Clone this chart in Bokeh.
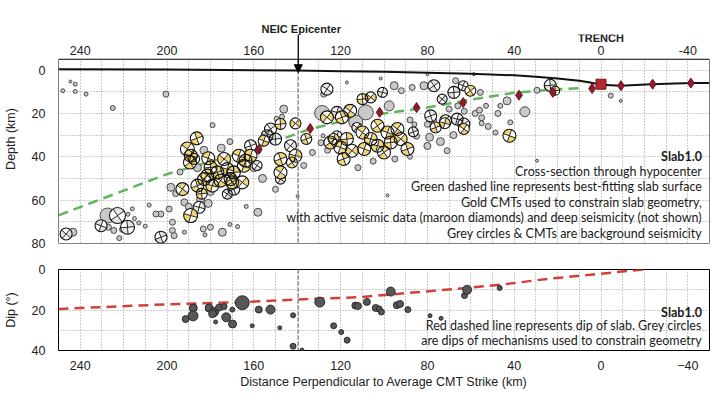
import math
from bokeh.plotting import figure
from bokeh.layouts import column
from bokeh.models import Range1d, FixedTicker, Label, Arrow, NormalHead, Span, BoxAnnotation
from bokeh.embed import file_html
from bokeh.resources import INLINE

# ---------------- data ----------------
x_tick_values = [240, 200, 160, 120, 80, 40, 0, -40]
depth_tick_values = [0, 20, 40, 60, 80]
dip_tick_values = [0, 20, 40]
epicenter_x = 139.5
trench_x = 0

surface_x = [250, 200, 160, 140, 120, 100, 80, 60, 40, 30, 20, 10, 5, 0, -9, -23, -42, -50]
surface_depth = [-0.4, -0.3, 0.1, 0.2, 0.5, 0.8, 1.2, 1.7, 2.4, 3.1, 3.9, 4.9, 5.7, 6.8, 7.2, 6.5, 6.0, 5.9]

slab_x = [250, 200, 160, 135, 117, 100, 80, 60, 40, 20, 10]
slab_depth = [67, 48, 36.5, 27.5, 23, 20, 17.3, 13.6, 10.5, 8.8, 8.4]

dipline_x = [250, 200, 166, 140, 112, 82, 62, 46, 26, 5, -19.5]
dipline_val = [19.5, 17.2, 16.1, 14.8, 13.7, 11.0, 9.1, 7.5, 4.8, 2.6, 0.0]

active_x = [157.7, 134, 102, 85, 63.5, 37.8, 22.2, 4.1, -9.2, -23.8, -41.4]
active_depth = [36.6, 27, 19.5, 17.3, 15, 11.6, 10.3, 8.5, 7.2, 6.5, 6.0]
trench_sq_x = [0]
trench_sq_depth = [6.5]

gold_x = [186.3, 190.6, 189, 189.4, 181, 179.9, 181.4, 176.8, 175.3, 172.2,
          170.7, 166.9, 163.8, 165.3, 186, 192.9, 189.1, 187.5, 161.5, 169.2,
          173.7, 147.7, 147.7, 140.8, 142.4, 155.4, 147.7, 140.8, 135.8, 182.9,
          179.1, 170, 164.6, 184, 126.3, 119.4, 115.6, 123.2, 124.7, 120.1,
          117.1, 114.8, 118.6, 109.9, 106.1, 103, 98.4, 96.9, 92.3, 89.2,
          93.8, 103, 100, 109.1, 109.9, 106.1, 76.2, 63.2, 72, 60.2,
          42.2, 21.1]
gold_depth = [31.5, 36.4, 39.5, 42.6, 40.7, 44.9, 48.7, 47.2, 51, 45.7,
              50.3, 39.5, 41.8, 51.8, 53.3, 54.9, 67.1, 41, 39.5, 47.2,
              41, 41, 47.2, 39.5, 42.6, 32.6, 24.9, 24.6, 31.8, 50.3,
              53.3, 51.8, 44.1, 57, 21.8, 21.8, 18.8, 31.8, 33.4, 35.7,
              31.8, 37.2, 41, 28.8, 31.8, 25.7, 28.8, 33.4, 31.8, 36.4,
              27.2, 34.9, 38, 36.4, 13.4, 12.6, 26.5, 27.2, 24.5, 9.5,
              30.3, 9.5]
gold_size = [6.5, 7, 6.5, 6.5, 6.5, 6.5, 6.5, 6.5, 6.5, 6.5,
             6.5, 6.5, 6.5, 6.5, 6.5, 6.5, 7, 5.5, 6.5, 6.5,
             6.5, 6.5, 6.5, 6.5, 5.5, 5.5, 5.5, 5.5, 5.5, 6.5,
             6.5, 6.5, 6.5, 5.5, 6.5, 6.5, 6.5, 5.5, 6.5, 6.5,
             6.5, 6.5, 6.5, 6.5, 6.5, 6.5, 6.5, 6.5, 6.5, 6.5,
             6.5, 6.5, 6.5, 6.5, 5.5, 5.5, 5.5, 5.5, 5.5, 5.5,
             6.5, 4.5]

white_x = [169.2, 172.2, 185.2, 222.8, 230.4, 218.2, 246.5, 202.8, 126.3, 121.7,
           152.3, 153.9, 150, 143.1, 161.5, 147.7, 100.7, 77, 63.5, 67.8,
           73.2, 78.5, 71.6, 66.3, 63.2, 121.7, 23.4, 112.5, 86.5, 158.5]
white_depth = [54.9, 57.2, 63.3, 67.1, 71.8, 72.5, 75.6, 77.1, 8.8, 19.5,
               27.2, 30.3, 31.8, 34.9, 34.9, 50.3, 10.3, 7.2, 7.2, 10.3,
               13.4, 21.1, 23.4, 22.6, 24.9, 30.3, 7, 26.5, 28.5, 44]
white_size = [6, 5, 6, 8, 6, 7, 6, 6, 6, 6,
              6, 6, 6, 6, 6, 5, 5, 6, 5, 6,
              5, 6, 6, 6, 6, 5, 6, 5, 5, 5]

grey_x = [248, 244.5, 242.3, 242.3, 237.3, 200.5, 225, 179, 184.5, 181,
          192, 190, 199, 202.8, 205.1, 208.2, 216, 218, 215, 213,
          227.4, 227, 224.5, 220.5, 222, 210, 243.4, 197.5, 197.5, 192,
          182.5, 174.5, 180, 198.2, 196.7, 183.3, 171, 167.5, 158.1, 163.5,
          139.8, 146.2, 147, 149.5, 127.8, 128.5, 128.1, 129, 126, 117.1,
          101.5, 80, 58.6, 95.3, 92, 87, 81.6, 67, 55.6, 97.6,
          108.4, 113, 88, 86, 80, 77, 70, 66, 63, 58,
          55, 56, 53, 46.4, 47.5, 43.3, 35.1, 41.8, 48.6, 52,
          55, 29.5, -4.5, -9.1, 29.5, 70.9, 85, 79, 74, 68,
          80, 98.4, 175, 160, 156, 158, 183, 171, 186, 194,
          196, 180, 150, 137, 133, 112, 105, 95, 88]
grey_depth = [9.5, 5.3, 6.5, 9.9, 11.1, 11.1, 17.5, 25.4, 59.5, 61.5,
              61, 63, 64.1, 66.4, 66.4, 62.3, 64, 66.5, 68.5, 70.5,
              67.1, 72.5, 74, 73.5, 77.5, 72, 74.8, 70.2, 74, 74.8,
              76, 74.8, 72.5, 54.1, 76.4, 73.3, 71.2, 72.2, 65.6, 62.9,
              58.2, 18, 21.5, 22.5, 11.1, 19.8, 30.3, 33.5, 37, 5.7,
              3.9, 1.9, 1.9, 7.2, 9.5, 8, 7.2, 4.9, 10.3, 16.5,
              19.5, 24, 23, 25, 25, 23.5, 18, 16.5, 19, 20,
              22, 18.5, 16.5, 16.5, 20, 14.2, 19.2, 24.1, 28.8, 26,
              24.5, 9.3, 11.8, 14.2, 41.8, 37.2, 30.5, 31, 33, 30,
              35, 57.8, 36, 45, 50, 37, 37, 33, 45, 47,
              57, 56, 55, 44, 38, 45, 42, 41, 40]
grey_size = [2, 1.5, 2, 2, 2, 3, 2.5, 2.5, 4, 4,
             3.5, 3.5, 3, 3, 3, 2, 2, 2, 2, 2,
             7.5, 3, 3, 3, 2.5, 2, 4, 3, 3, 2,
             2, 4, 3, 4, 3, 3, 2, 2, 4, 2,
             1.5, 4, 2.5, 2.5, 3, 7.5, 2, 3, 3, 1.5,
             1.5, 1.5, 1.5, 4, 3, 3, 4, 3, 3, 5,
             7.5, 7, 3, 2.5, 3, 3, 3, 3, 3, 3,
             3, 3, 2.5, 2.5, 3, 4, 5, 2.5, 2.5, 3,
             2.5, 3, 2.5, 1.5, 1.5, 3, 3, 4, 4, 3.5,
             3.5, 1.5, 4, 4, 4, 3, 4, 3, 4, 3,
             3, 4, 3, 3, 3, 3, 3, 3, 2.5]

dip_x = [191.4, 187.9, 188, 180.6, 178.3, 179, 176, 173.7, 177.6, 172.7,
         169.9, 169.8, 165.3, 160.7, 157.7, 152.3, 148, 141.9, 141.9, 137.8,
         129.6, 123.2, 119.7, 117, 113.2, 112, 107.9, 103.8, 102.2, 101.2,
         96.9, 94.1, 92.6, 89, 78.8, 73.7, 62.9, 61.7, 46.7]
dip_val = [24.5, 19, 22.9, 19, 21, 21.8, 18.8, 18.3, 25.9, 23.6,
           19.8, 26.9, 16.4, 27.8, 19.8, 19.8, 28.8, 22.6, 37.9, 39.8,
           16.1, 27.8, 30.9, 34.9, 17.8, 18, 16, 19, 19.5, 21,
           10.9, 17.6, 17, 19.8, 22.8, 24.1, 12.9, 10, 9.1]
dip_size = [3.5, 4, 5, 4, 4.5, 4, 3.5, 3, 2, 4.5,
            2.5, 4, 7, 2, 3.5, 4.5, 2, 2.5, 3, 2,
            5, 3, 2.5, 3, 3.5, 3.5, 3.5, 3.5, 3, 3,
            4.5, 3.5, 3.5, 3, 2, 2, 3, 4.5, 2.5]

cmt_rotation = [20, 55, -15, 35, 70, 5, -40]

top_notes = ["Slab1.0",
             "Cross-section through hypocenter",
             "Green dashed line represents best-fitting slab surface",
             "Gold CMTs used to constrain slab geometry,",
             "with active seismic data (maroon diamonds) and deep seismicity (not shown)",
             "Grey circles & CMTs are background seismicity"]
top_notes_depth = [39.8, 46.7, 53.9, 61.0, 68.2, 75.3]
bottom_notes = ["Slab1.0",
                "Red dashed line represents dip of slab. Grey circles",
                "are dips of mechanisms used to constrain geometry"]
bottom_notes_dip = [21.1, 27.8, 34.9]

# panel limits
x_left, x_right = 250, -50
depth_top, depth_bottom = -5, 80
depth_canvas_top = -16.42       # extra headroom for arrow / TRENCH label
x_label_depth = -9.04
trench_label_depth = -14.7

# ---------------- styling helpers ----------------
AX_FONT = "Liberation Sans"
NOTE_FONT = "Lato"
NOTE_X = -46.5
TXT = "#222222"


def style_axis(ax):
    ax.axis_line_color = None
    ax.major_tick_line_color = None
    ax.minor_tick_line_color = None
    ax.major_label_text_font = AX_FONT
    ax.major_label_text_font_size = "12.5px"
    ax.major_label_text_color = TXT
    ax.axis_label_text_font = AX_FONT
    ax.axis_label_text_font_size = "12.5px"
    ax.axis_label_text_font_style = "normal"
    ax.axis_label_text_color = TXT


def style_grid(p, y_grid):
    p.background_fill_color = "white"
    p.border_fill_color = "white"
    p.xgrid.ticker = FixedTicker(ticks=list(range(-50, 251, 10)))
    p.ygrid.ticker = FixedTicker(ticks=y_grid)
    for g in (p.xgrid, p.ygrid):
        g.grid_line_color = "#9a9a9a"
        g.grid_line_dash = "1 2"
        g.grid_line_width = 1


def draw_cmts(p, xs, ys, rs, quad_color):
    n = len(xs)
    rot = [math.radians(cmt_rotation[i % len(cmt_rotation)]) for i in range(n)]
    p.scatter(xs, ys, size=[2 * r for r in rs], marker="circle",
              fill_color="white", line_color=None)
    ws = rot + [a + math.pi for a in rot]
    we = [a + math.pi / 2 for a in ws]
    p.wedge(x=xs + xs, y=ys + ys, radius=rs + rs, radius_units="screen",
            start_angle=ws, end_angle=we, fill_color=quad_color, line_color=None)
    for k in range(4):
        p.ray(x=xs, y=ys, length=rs, length_units="screen",
              angle=[a + k * math.pi / 2 for a in rot],
              line_color="#111111", line_width=0.9)
    p.scatter(xs, ys, size=[2 * r for r in rs], marker="circle",
              fill_color=None, line_color="#111111", line_width=1.1)


# ---------------- top panel ----------------
p1 = figure(width=712, height=253, output_backend="svg", toolbar_location=None,
            x_range=Range1d(x_left, x_right), y_range=Range1d(depth_bottom, depth_canvas_top),
            x_axis_location=None,
            min_border_left=56, min_border_right=3, min_border_top=34, min_border_bottom=10)
style_grid(p1, list(range(0, 81, 10)))
p1.outline_line_color = None
style_axis(p1.yaxis[0])
p1.yaxis.ticker = FixedTicker(ticks=depth_tick_values)
p1.yaxis.axis_label = "Depth (km)"
p1.yaxis.major_label_standoff = 7
p1.yaxis.axis_label_standoff = 11

p1.title.text = "NEIC Epicenter"
p1.title.align = "left"
p1.title.offset = 203
p1.title.standoff = 0
p1.title.vertical_align = "bottom"
p1.title.text_font = AX_FONT
p1.title.text_font_size = "11px"
p1.title.text_font_style = "bold"
p1.title.text_color = TXT

p1.add_layout(Span(location=epicenter_x, dimension="height", line_color="#8a8a8a",
                   line_dash="4 2", line_width=1.3))

p1.line(slab_x, slab_depth, line_color="#62b65a", line_width=2.5, line_dash="10 6")
p1.scatter(grey_x, grey_depth, size=[2 * r for r in grey_size], marker="circle",
           fill_color="#c9c9c9", line_color="#3a3a3a", line_width=0.9)
draw_cmts(p1, white_x, white_depth, white_size, "#e4e4e4")
draw_cmts(p1, gold_x, gold_depth, gold_size, "#f2d77a")
p1.line(surface_x, surface_depth, line_color="#111111", line_width=2)
p1.scatter(active_x, active_depth, marker="diamond", size=10,
           fill_color="#8e1c2c", line_color="#6e1020")
p1.scatter(trench_sq_x, trench_sq_depth, marker="square", size=10,
           fill_color="#b02a30", line_color="#7a1018")

# blank header strip above the data box, then the box outline
p1.add_layout(BoxAnnotation(left=x_left, right=x_right, top=-30, bottom=depth_top,
                            fill_color="white", fill_alpha=1.0, line_color=None))
p1.add_layout(BoxAnnotation(left=x_left, right=x_right, top=depth_top, bottom=depth_bottom,
                            fill_color=None, fill_alpha=0, line_color="black",
                            line_width=1, line_alpha=1))

for v in x_tick_values:
    p1.add_layout(Label(x=v, y=x_label_depth, text=str(v), text_align="center",
                        text_baseline="middle", text_font=AX_FONT,
                        text_font_size="12.5px", text_color=TXT))

p1.add_layout(Arrow(end=NormalHead(size=8, fill_color="black", line_color="black"),
                    x_start=epicenter_x, y_start=depth_canvas_top, x_end=epicenter_x,
                    y_end=1.2, line_color="black", line_width=1.3))
p1.add_layout(Label(x=trench_x, y=trench_label_depth, text="TRENCH", text_align="center",
                    text_baseline="middle", text_font=AX_FONT, text_font_size="11px",
                    text_font_style="bold", text_color=TXT))

for i, (t, d) in enumerate(zip(top_notes, top_notes_depth)):
    p1.add_layout(Label(x=NOTE_X, y=d, text=t, text_align="right", text_baseline="middle",
                        text_font=NOTE_FONT, text_font_size="12.5px",
                        text_font_style="bold" if i == 0 else "normal",
                        text_color="#1a1a1a"))

# ---------------- bottom panel ----------------
p2 = figure(width=712, height=138, output_backend="svg", toolbar_location=None,
            x_range=p1.x_range, y_range=Range1d(40, 0),
            min_border_left=56, min_border_right=3, min_border_top=16, min_border_bottom=35)
style_grid(p2, [0, 10, 20, 30, 40])
p2.outline_line_color = "black"
p2.outline_line_width = 1
style_axis(p2.xaxis[0])
style_axis(p2.yaxis[0])
p2.xaxis.ticker = FixedTicker(ticks=x_tick_values)
p2.yaxis.ticker = FixedTicker(ticks=dip_tick_values)
p2.yaxis.axis_label = "Dip (°)"
p2.yaxis.major_label_standoff = 7
p2.yaxis.axis_label_standoff = 11
p2.xaxis.axis_label = "Distance Perpendicular to Average CMT Strike (km)"
p2.xaxis.major_label_standoff = 4
p2.xaxis.axis_label_standoff = 2

p2.add_layout(Span(location=epicenter_x, dimension="height", line_color="#8a8a8a",
                   line_dash="4 2", line_width=1.3))
p2.line(dipline_x, dipline_val, line_color="#d2403b", line_width=2.5, line_dash="10 6")
p2.scatter(dip_x, dip_val, size=[2 * r for r in dip_size], marker="circle",
           fill_color="#575757", line_color="#222222", line_width=0.9)

for i, (t, d) in enumerate(zip(bottom_notes, bottom_notes_dip)):
    p2.add_layout(Label(x=NOTE_X, y=d, text=t, text_align="right", text_baseline="middle",
                        text_font=NOTE_FONT, text_font_size="12.5px",
                        text_font_style="bold" if i == 0 else "normal",
                        text_color="#1a1a1a"))

layout = column(p1, p2, spacing=0)
open("out.html", "w").write(file_html(layout, INLINE))
